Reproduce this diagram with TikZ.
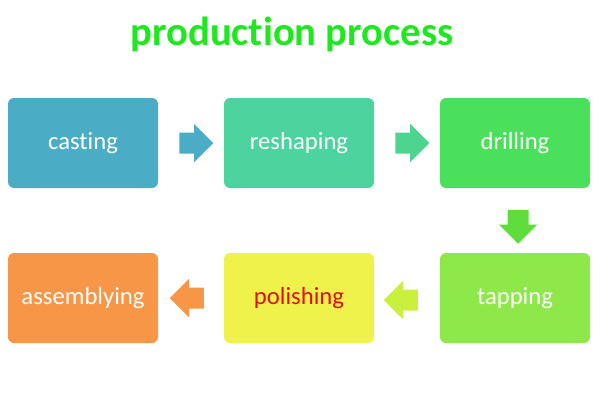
\documentclass[tikz,border=0pt]{standalone}
\usepackage{fontspec}
\setmainfont{Carlito}[Ligatures=NoCommon]
\usetikzlibrary{shapes.arrows,calc}

\definecolor{castcol}{HTML}{4BACC6}
\definecolor{reshcol}{HTML}{4CD39E}
\definecolor{drillcol}{HTML}{4BE05B}
\definecolor{tapcol}{HTML}{8EE84A}
\definecolor{polcol}{HTML}{EEF24A}
\definecolor{asmcol}{HTML}{F79646}
\definecolor{titlecol}{HTML}{1EE81E}

\tikzset{every picture/.style={line width=0.75pt}}
\tikzset{
  stepbox/.style={rounded corners=4.5pt, minimum width=112.5pt, minimum height=67.5pt, inner sep=0pt, text=white, font=\fontsize{18.5}{22}\selectfont},
  blockarrow/.style={single arrow, draw=none, inner xsep=0pt, inner ysep=7.5pt, minimum height=25.5pt, single arrow head extend=6.4pt, single arrow tip angle=90}
}

\begin{document}
\begin{tikzpicture}[x=0.75pt,y=0.75pt,yscale=-1,xscale=1]
\useasboundingbox (0,0) rectangle (600,400);

% Title
\node (title) at (292,34) {\fontsize{30.5}{34}\selectfont\bfseries\color{titlecol}production process};

% Boxes
\node [stepbox, fill=castcol] (casting) at (83,143) {casting};
\node [stepbox, fill=reshcol] (reshaping) at (299,143) {reshaping};
\node [stepbox, fill=drillcol] (drilling) at (515,143) {drilling};
\node [stepbox, fill=tapcol] (tapping) at (515,298) {tapping};
\node [stepbox, fill=polcol, text={rgb,255:red,224;green,16;blue,16}] (polishing) at (299,298) {polishing};
\node [stepbox, fill=asmcol] (assemblying) at (83,298) {assemblying};

% Arrows
\node [blockarrow, fill=castcol] (arr1) at ($(casting.east)!0.5!(reshaping.west)$) {};
\node [blockarrow, fill={rgb,255:red,77;green,213;blue,143}] (arr2) at ($(reshaping.east)!0.5!(drilling.west)$) {};
\node [blockarrow, fill={rgb,255:red,94;green,221;blue,61}, rotate=270] (arr3) at ($(drilling.south)!0.5!(tapping.north)+(3,1)$) {};
\node [blockarrow, fill={rgb,255:red,200;green,240;blue,60}, rotate=180] (arr4) at ($(tapping.west)!0.5!(polishing.east)+(-1,2)$) {};
\node [blockarrow, fill=asmcol, rotate=180] (arr5) at ($(polishing.west)!0.5!(assemblying.east)+(1,0)$) {};

\end{tikzpicture}
\end{document}
